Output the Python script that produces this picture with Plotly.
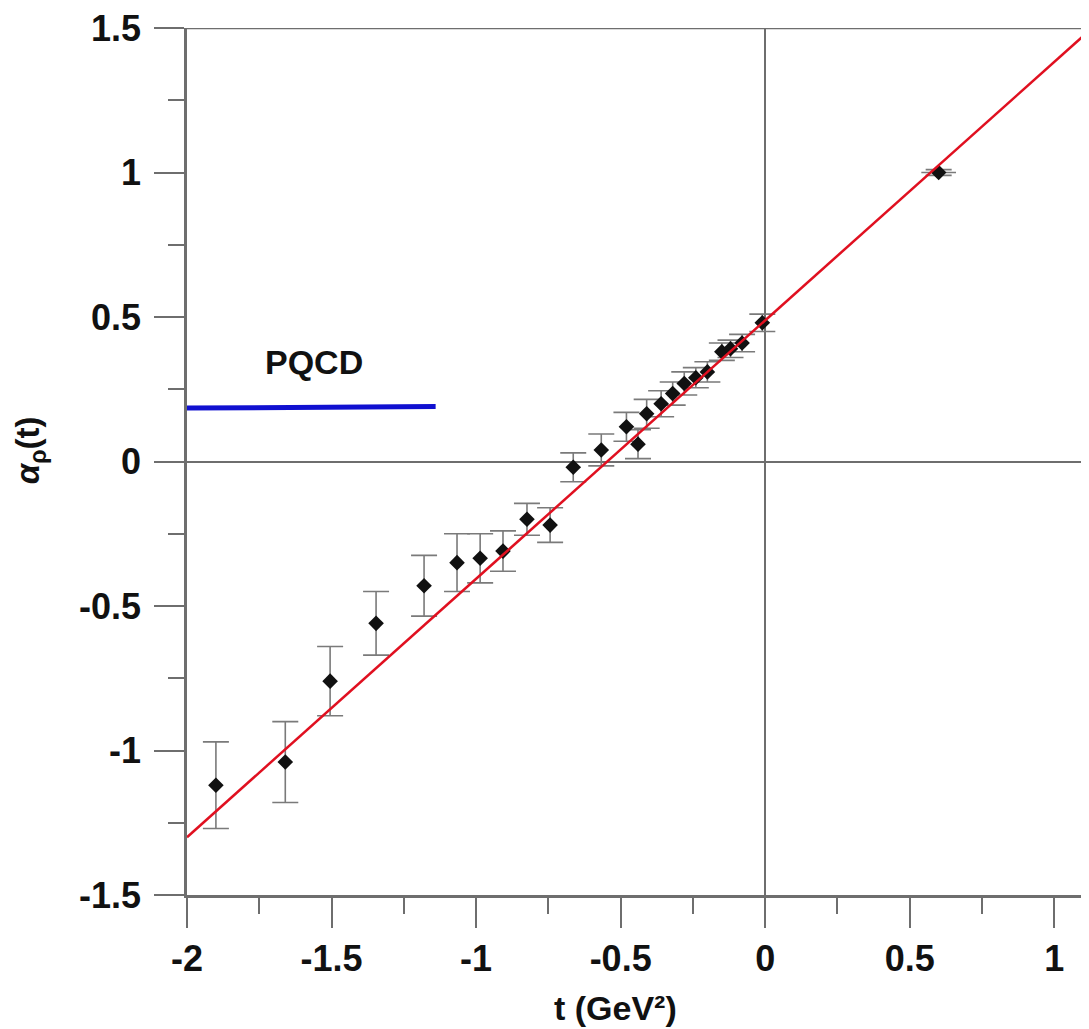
import plotly.graph_objects as go

# Data
t_vals = [-1.90, -1.66, -1.505, -1.346, -1.18, -1.066, -0.986, -0.907, -0.824, -0.744,
          -0.664, -0.567, -0.48, -0.44, -0.41, -0.36, -0.32, -0.28, -0.24, -0.20,
          -0.15, -0.12, -0.08, -0.01, 0.60]
alpha_vals = [-1.12, -1.04, -0.76, -0.56, -0.43, -0.35, -0.335, -0.31, -0.20, -0.22,
              -0.02, 0.04, 0.12, 0.06, 0.165, 0.20, 0.235, 0.27, 0.29, 0.31,
              0.38, 0.39, 0.41, 0.48, 1.00]
alpha_err = [0.15, 0.14, 0.12, 0.11, 0.105, 0.10, 0.085, 0.07, 0.055, 0.06,
             0.05, 0.055, 0.05, 0.05, 0.05, 0.045, 0.04, 0.04, 0.035, 0.035,
             0.03, 0.03, 0.03, 0.03, 0.01]
t_err = [0] * 24 + [0.06]

fit_t = [-2.0, 1.12]
fit_alpha = [-1.30, 1.49]

pqcd_t = [-2.0, -1.14]
pqcd_alpha = [0.185, 0.19]

x_ticks = [-2, -1.5, -1, -0.5, 0, 0.5, 1]
x_ticklabels = ["-2", "-1.5", "-1", "-0.5", "0", "0.5", "1"]
y_ticks = [-1.5, -1, -0.5, 0, 0.5, 1, 1.5]
y_ticklabels = ["-1.5", "-1", "-0.5", "0", "0.5", "1", "1.5"]

GRAY = "#6e6e6e"
FONT = "Liberation Sans, Arial, sans-serif"

fig = go.Figure()

fig.add_trace(go.Scatter(
    x=pqcd_t, y=pqcd_alpha, mode="lines",
    line=dict(color="#1010d0", width=5), showlegend=False, hoverinfo="skip"))

fig.add_trace(go.Scatter(
    x=t_vals, y=alpha_vals, mode="markers",
    marker=dict(symbol="diamond", size=12, color="#111111"),
    error_y=dict(type="data", array=alpha_err, color="#7a7a7a", thickness=1.6, width=13),
    error_x=dict(type="data", array=t_err, color="#7a7a7a", thickness=1.6, width=0),
    showlegend=False))

fig.add_trace(go.Scatter(
    x=fit_t, y=fit_alpha, mode="lines",
    line=dict(color="#e01020", width=2.5), showlegend=False))

fig.add_annotation(x=-1.56, y=0.343, text="<b>PQCD</b>", showarrow=False,
                   font=dict(family=FONT, size=34, color="#111111"))

fig.add_annotation(xref="paper", yref="paper", x=0.4756, y=-0.130, text="<b>t (GeV²)</b>",
                   showarrow=False, xanchor="center", yanchor="middle",
                   font=dict(family=FONT, size=34, color="#111111"))

fig.add_annotation(xref="paper", yref="paper", x=-0.174, y=0.513,
                   text="<b><i>α</i><sub>ρ</sub>(t)</b>", textangle=-90, showarrow=False,
                   xanchor="center", yanchor="middle",
                   font=dict(family=FONT, size=33, color="#111111"))

# top frame line
fig.add_shape(type="line", xref="paper", yref="y", x0=0, x1=1, y0=1.5, y1=1.5,
              line=dict(color=GRAY, width=2.5))

fig.update_layout(
    width=1089, height=1029,
    margin=dict(l=179, r=8, t=20, b=142),
    paper_bgcolor="white", plot_bgcolor="white",
    font=dict(family=FONT, color="#111111"),
)

fig.update_xaxes(
    range=[-2, 1.12], tickvals=x_ticks, ticktext=x_ticklabels, automargin=False,
    showgrid=False, zeroline=True, zerolinecolor=GRAY, zerolinewidth=2,
    showline=True, linecolor=GRAY, linewidth=2.5, ticklabeloverflow="allow",
    ticks="outside", ticklen=30, tickwidth=2, tickcolor=GRAY, ticklabelstandoff=0,
    minor=dict(ticks="outside", ticklen=16, tickwidth=2, tickcolor=GRAY, dtick=0.25, showgrid=False),
    tickfont=dict(family=FONT, size=36, color="#111111", weight="bold"),
)
fig.update_yaxes(
    range=[-1.5, 1.5], tickvals=y_ticks, ticktext=y_ticklabels, automargin=False,
    showgrid=False, zeroline=True, zerolinecolor=GRAY, zerolinewidth=2,
    showline=True, linecolor=GRAY, linewidth=2.5, ticklabeloverflow="allow",
    ticks="outside", ticklen=30, tickwidth=2, tickcolor=GRAY, ticklabelstandoff=6,
    minor=dict(ticks="outside", ticklen=16, tickwidth=2, tickcolor=GRAY, dtick=0.25, showgrid=False),
    tickfont=dict(family=FONT, size=36, color="#111111", weight="bold"),
)

fig.write_html("out.html")
